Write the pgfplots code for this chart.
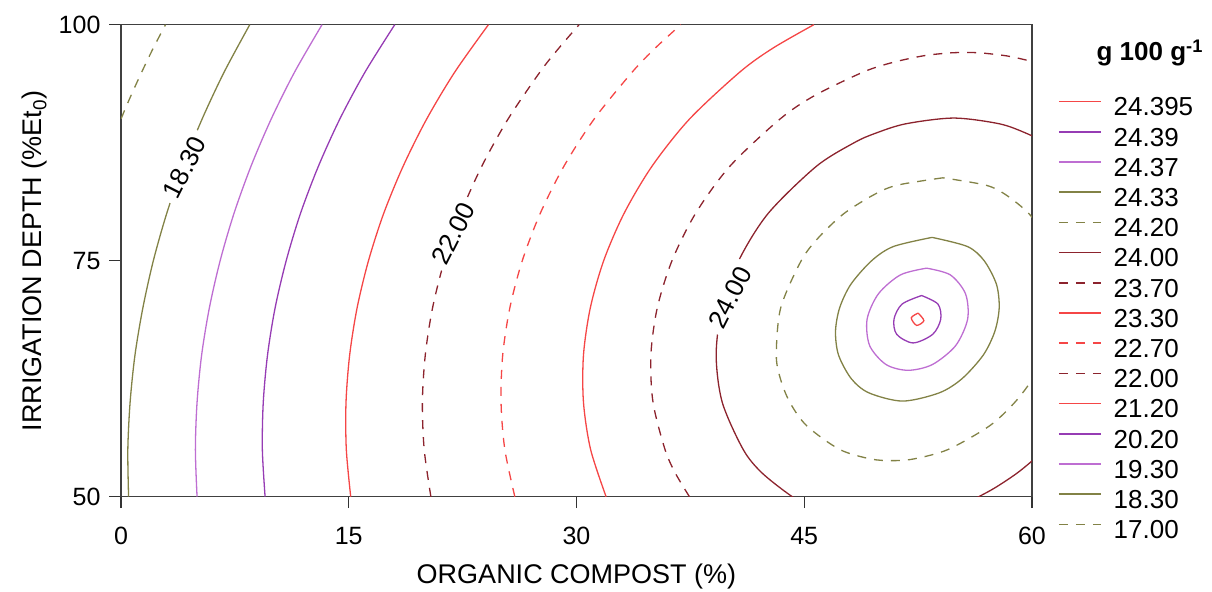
\documentclass[border=0pt]{standalone}
\usepackage{fontspec}
\setmainfont{Liberation Sans}
\usepackage{pgfplots}
\pgfplotsset{compat=1.18}

\definecolor{cRed}{RGB}{245,70,70}
\definecolor{cPurple}{RGB}{150,60,180}
\definecolor{cOrchid}{RGB}{190,110,210}
\definecolor{cOlive}{RGB}{130,130,70}
\definecolor{cMaroon}{RGB}{140,35,45}

\tikzset{
  cl/.style={line width=0.65pt},
  dsh/.style={dash pattern=on 4.5pt off 4pt},
  lbl/.style={rotate=63, fill=white, inner sep=3pt, font=\fontsize{13}{13}\selectfont},
}

\begin{document}
\begin{tikzpicture}
\useasboundingbox (-60.5pt,-47.15pt) rectangle (545.5pt,248.35pt);
\begin{axis}[
  at={(0pt,0pt)}, anchor=south west,
  scale only axis, width=455.5pt, height=236pt,
  xmin=0, xmax=60, ymin=50, ymax=100,
  xtick={0,15,30,45,60}, ytick={50,75,100},
  tick pos=left, tick align=outside, major tick length=5.75pt,
  axis line style={black!75, line width=0.6pt},
  tick style={black!80, line width=0.6pt},
  /pgf/number format/assume math mode=true,
  tick label style={font=\fontsize{12.5}{14}\selectfont},
  xticklabel style={yshift=-6pt},
  yticklabel style={xshift=-1pt},
  xlabel={ORGANIC COMPOST (\%)},
  ylabel={IRRIGATION DEPTH (\%Et\textsubscript{0})},
  label style={font=\fontsize{13.5}{15}\selectfont},
  xlabel style={at={(axis description cs:0.5,-0.1701)}, anchor=center},
  ylabel style={at={(axis description cs:-0.0944,0.5)}, anchor=center},
  legend cell align=left,
  legend image code/.code={\draw[#1, line width=0.85pt] (0pt,2.2pt) -- (21pt,2.2pt);},
  legend style={
    at={(axis description cs:1.0285,0.849)}, anchor=north west,
    draw=none, fill=none, inner sep=0pt, outer sep=0pt,
    row sep=5.1pt, column sep=6pt,
    font=\fontsize{13}{13}\selectfont,
    nodes={inner sep=0pt, text height=10pt, text depth=0pt},
  },
]

% 24.395
\addplot[cl, cRed, smooth] coordinates {
  (52.5,69.45) (52.05,68.95) (52.4,68.15) (52.88,68.65) (52.5,69.45)};
\addlegendentry{24.395}
% 24.39
\addplot[cl, cPurple, smooth] coordinates {
  (52.73,71.31) (51.44,70.4) (50.91,68.8) (51.09,67.2) (52.17,66.29)
  (53.46,67.2) (53.99,68.8) (53.81,70.4) (52.73,71.31)};
\addlegendentry{24.39}
% 24.37
\addplot[cl, cOrchid, smooth] coordinates {
  (53.06,74.21) (51.34,73.5) (49.89,71.5) (49.14,68.8) (49.31,66) (50.39,64)
  (51.84,63.39) (53.44,64) (54.97,66) (55.76,68.8) (55.62,71.5) (54.62,73.5)
  (53.06,74.21)};
\addlegendentry{24.37}
% 24.33
\addplot[cl, cOlive, smooth] coordinates {
  (53.42,77.47) (50.87,76.5) (49.44,75) (48.07,72.5) (47.33,70) (47.06,67.5)
  (47.26,65) (48.10,62.5) (49.26,61) (51.48,60.13) (53.89,61) (55.39,62.5)
  (56.79,65) (57.55,67.5) (57.84,70) (57.66,72.5) (56.85,75) (55.75,76.5)
  (53.42,77.47)};
\addlegendentry{24.33}
% 24.20
\addplot[cl, dsh, cOlive, smooth] coordinates {
  (54.13,83.78) (51.12,83) (49.60,82) (47.62,80) (45.97,77.5) (44.80,75)
  (43.45,70) (43.16,65) (43.43,62.5) (44.05,60) (45.17,57.5) (47.34,55)
  (49.37,54) (50.77,53.82) (52.21,54) (54.47,55) (57.20,57.5) (58.87,60)
  (60.05,62.5) (60.88,65) (61.43,67.5) (61.72,70) (61.74,72.5) (61.48,75)
  (60.88,77.5) (59.79,80) (58.26,82) (56.96,83) (54.13,83.78)};
\addlegendentry{24.20}
% 24.00
\addplot[cl, cMaroon, smooth] coordinates {
  (62.73,85) (60.79,87.5) (59.62,88.5) (57.86,89.5) (54.84,90.11) (51.68,89.5)
  (49.69,88.5) (48.29,87.5) (45.80,85) (42.62,80) (40.68,75) (39.58,70)
  (39.20,65) (39.60,60) (40.98,55) (42.23,52.5) (44.21,50) (45.41,49)
  (50.07,47.49) (55.05,49) (56.48,50) (57.62,51) (59.02,52.5) (60.16,54)
  (60.83,55)};
\addlegendentry{24.00}
% 23.70
\addplot[cl, dsh, cMaroon, smooth] coordinates {
  (37.44,50) (36.51,52.5) (35.83,55) (35.04,60) (34.90,65) (35.32,70)
  (36.29,75) (37.84,80) (40.10,85) (43.40,90) (45.69,92.5) (48.91,95)
  (50.82,96) (52.83,96.7) (54.50,97) (55.62,97.06) (56.71,97) (58.32,96.7)
  (59.5,96.3) (60.18,96) (61.85,95)};
\addlegendentry{23.70}
% 23.30
\addplot[cl, cRed, smooth] coordinates {
  (31.95,50) (30.93,55) (30.46,60) (30.46,65) (30.91,70) (31.79,75)
  (33.13,80) (34.97,85) (37.44,90) (40.77,95) (42.92,97.5) (45.63,100)};
\addlegendentry{23.30}
% 22.70
\addplot[cl, dsh, cRed, smooth] coordinates {
  (25.94,50) (25.28,55) (25.03,60) (25.14,65) (25.61,70) (26.43,75)
  (27.61,80) (29.17,85) (31.16,90) (33.68,95) (35.17,97.5) (36.87,100)};
\addlegendentry{22.70}
% 22.00
\addplot[cl, dsh, cMaroon, smooth] coordinates {
  (20.41,50) (19.97,55) (19.85,60) (20.04,65) (20.52,70) (21.30,75)
  (22.37,80) (23.76,85) (25.49,90) (27.60,95) (28.83,97.5) (30.17,100)};
\addlegendentry{22.00}
% 21.20
\addplot[cl, cRed, smooth] coordinates {
  (15.13,50) (14.84,55) (14.82,60) (15.06,65) (15.55,70) (16.30,75)
  (17.30,80) (18.58,85) (20.13,90) (21.99,95) (24.20,100)};
\addlegendentry{21.20}
% 20.20
\addplot[cl, cPurple, smooth] coordinates {
  (9.49,50) (9.31,55) (9.37,60) (9.65,65) (10.15,70) (10.88,75)
  (11.82,80) (13.00,85) (14.41,90) (16.08,95) (18.03,100)};
\addlegendentry{20.20}
% 19.30
\addplot[cl, cOrchid, smooth] coordinates {
  (5.01,50) (4.90,55) (5.01,60) (5.31,65) (5.82,70) (6.53,75)
  (7.44,80) (8.56,85) (9.89,90) (11.44,95) (13.24,100)};
\addlegendentry{19.30}
% 18.30
\addplot[cl, cOlive, smooth] coordinates {
  (0.50,50) (0.45,55) (0.60,60) (0.92,65) (1.44,70) (2.13,75)
  (3.01,80) (4.08,85) (5.34,90) (6.80,95) (8.48,100)};
\addlegendentry{18.30}
% 17.00
\addplot[cl, dsh, cOlive, smooth] coordinates {
  (-1.2,85) (0,90) (0.66,92.5) (1.37,95) (2.12,97.5) (2.93,100)};
\addlegendentry{17.00}

% contour value labels
\node[lbl] at (axis cs:4.2,84.9) {18.30};
\node[lbl] at (axis cs:21.9,77.9) {22.00};
\node[lbl] at (axis cs:40.1,71.1) {24.00};
\end{axis}

% legend heading
\node[font=\bfseries\fontsize{13}{13}\selectfont] at (514.5pt,221.85pt) {g 100 g\textsuperscript{-1}};
\end{tikzpicture}
\end{document}
